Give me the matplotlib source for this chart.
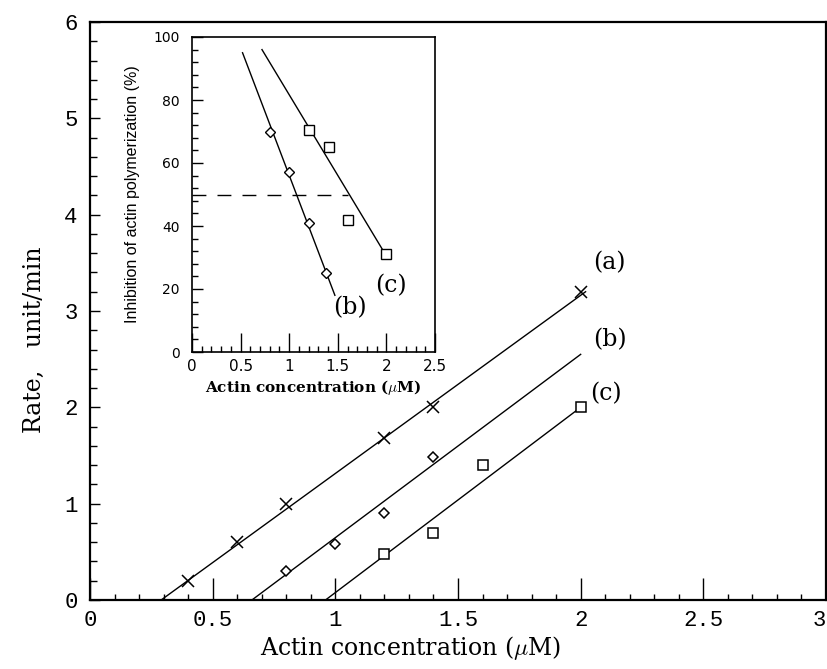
import numpy as np
import matplotlib
matplotlib.use('Agg')
import matplotlib.pyplot as plt
from matplotlib.ticker import MultipleLocator

plt.rcParams['mathtext.fontset'] = 'cm'

# main plot data: rate vs actin concentration
a_x = [0.4, 0.6, 0.8, 1.2, 1.4, 2.0]
a_y = [0.2, 0.6, 1.0, 1.68, 2.0, 3.2]
b_x = [0.8, 1.0, 1.2, 1.4]
b_y = [0.3, 0.58, 0.9, 1.48]
c_x = [1.2, 1.4, 1.6, 2.0]
c_y = [0.48, 0.7, 1.4, 2.0]

# fitted lines
a_fit_x = [0.29, 2.02]
a_fit_y = [0.0, 3.2]
b_fit_x = [0.66, 2.0]
b_fit_y = [0.0, 2.55]
c_fit_x = [0.96, 2.0]
c_fit_y = [0.0, 2.0]

# inset data: inhibition (%)
ib_x = [0.8, 1.0, 1.2, 1.38]
ib_y = [70, 57, 41, 25]
ic_x = [1.2, 1.41, 1.6, 2.0]
ic_y = [70.5, 65, 42, 31]
ib_fit_x = [0.52, 1.47]
ib_fit_y = [95, 18]
ic_fit_x = [0.72, 1.97]
ic_fit_y = [96, 32]
half_x = [0, 1.6]
half_y = [50, 50]

main_ticks = [0, 0.5, 1, 1.5, 2, 2.5, 3]
main_ticklabels = ['0', '0.5', '1', '1.5', '2', '2.5', '3']
ins_ticks = [0, 0.5, 1, 1.5, 2, 2.5]
ins_ticklabels = ['0', '0.5', '1', '1.5', '2', '2.5']

fig = plt.figure(figsize=(8.27, 6.69), dpi=100)
ax = fig.add_axes([90/827, 69/669, 736/827, 578/669])

ax.plot(a_fit_x, a_fit_y, color='black', lw=1)
ax.plot(b_fit_x, b_fit_y, color='black', lw=1)
ax.plot(c_fit_x, c_fit_y, color='black', lw=1)
ax.plot(a_x, a_y, 'x', color='black', ms=8.5, mew=1.1)
ax.plot(b_x, b_y, 'D', mfc='white', mec='black', ms=5.5, mew=1.1)
ax.plot(c_x, c_y, 's', mfc='white', mec='black', ms=7, mew=1.1)

ax.set_xlim(0, 3)
ax.set_ylim(0, 6)
ax.set_xticks(main_ticks)
ax.set_xticklabels(main_ticklabels)
ax.xaxis.set_minor_locator(MultipleLocator(0.1))
ax.yaxis.set_major_locator(MultipleLocator(1))
ax.yaxis.set_minor_locator(MultipleLocator(0.2))
ax.tick_params(axis='x', which='major', direction='in', length=16, width=1, pad=7)
ax.tick_params(axis='x', which='minor', direction='in', length=4, width=1)
ax.tick_params(axis='y', which='major', direction='in', length=7, width=1, pad=9)
ax.tick_params(axis='y', which='minor', direction='in', length=5, width=1)
for lab in ax.get_xticklabels() + ax.get_yticklabels():
    lab.set_family('Liberation Mono')
    lab.set_fontsize(16)
ax.get_xticklabels()[-1].set_horizontalalignment('right')
for s in ax.spines.values():
    s.set_linewidth(1.6)

ax.set_xlabel('Actin concentration ($\\mu$M)', family='DejaVu Serif', fontsize=17)
ax.xaxis.set_label_coords(0.436, -0.058)
ax.set_ylabel('Rate,   unit/min', family='DejaVu Serif', fontsize=17)
ax.yaxis.set_label_coords(-0.06, 0.45)

ax.text(2.05, 3.5, '(a)', family='DejaVu Serif', fontsize=17, va='center')
ax.text(2.05, 2.7, '(b)', family='DejaVu Serif', fontsize=17, va='center')
ax.text(2.04, 2.14, '(c)', family='DejaVu Serif', fontsize=17, va='center')

# inset
ins = fig.add_axes([192/827, 317/669, 243/827, 315/669])
ins.plot(ib_fit_x, ib_fit_y, color='black', lw=1)
ins.plot(ic_fit_x, ic_fit_y, color='black', lw=1)
ins.plot(half_x, half_y, color='black', lw=1, dashes=(10, 8))
ins.plot(ib_x, ib_y, 'D', mfc='white', mec='black', ms=5, mew=1)
ins.plot(ic_x, ic_y, 's', mfc='white', mec='black', ms=6.5, mew=1)
ins.set_xlim(0, 2.5)
ins.set_ylim(0, 100)
ins.set_xticks(ins_ticks)
ins.set_xticklabels(ins_ticklabels)
ins.xaxis.set_minor_locator(MultipleLocator(0.1))
ins.yaxis.set_major_locator(MultipleLocator(20))
ins.yaxis.set_minor_locator(MultipleLocator(4))
ins.tick_params(axis='x', which='major', direction='in', length=14, width=1, pad=5, labelsize=11)
ins.tick_params(axis='x', which='minor', direction='in', length=4, width=1)
ins.tick_params(axis='y', which='major', direction='in', length=8, width=1, pad=9, labelsize=10)
ins.tick_params(axis='y', which='minor', direction='in', length=4, width=1)
for s in ins.spines.values():
    s.set_linewidth(1.2)
ins.set_xlabel('Actin concentration ($\\mu$M)', family='DejaVu Serif', fontsize=11,
               fontweight='bold', labelpad=3)
ins.set_ylabel('Inhibition of actin polymerization (%)', family='Liberation Sans',
               fontsize=11.5)
ins.yaxis.set_label_coords(-0.214, 0.5)
ins.text(1.45, 14, '(b)', family='DejaVu Serif', fontsize=17, va='center')
ins.text(1.88, 21, '(c)', family='DejaVu Serif', fontsize=17, va='center')

fig.savefig('out.png', dpi=100)
